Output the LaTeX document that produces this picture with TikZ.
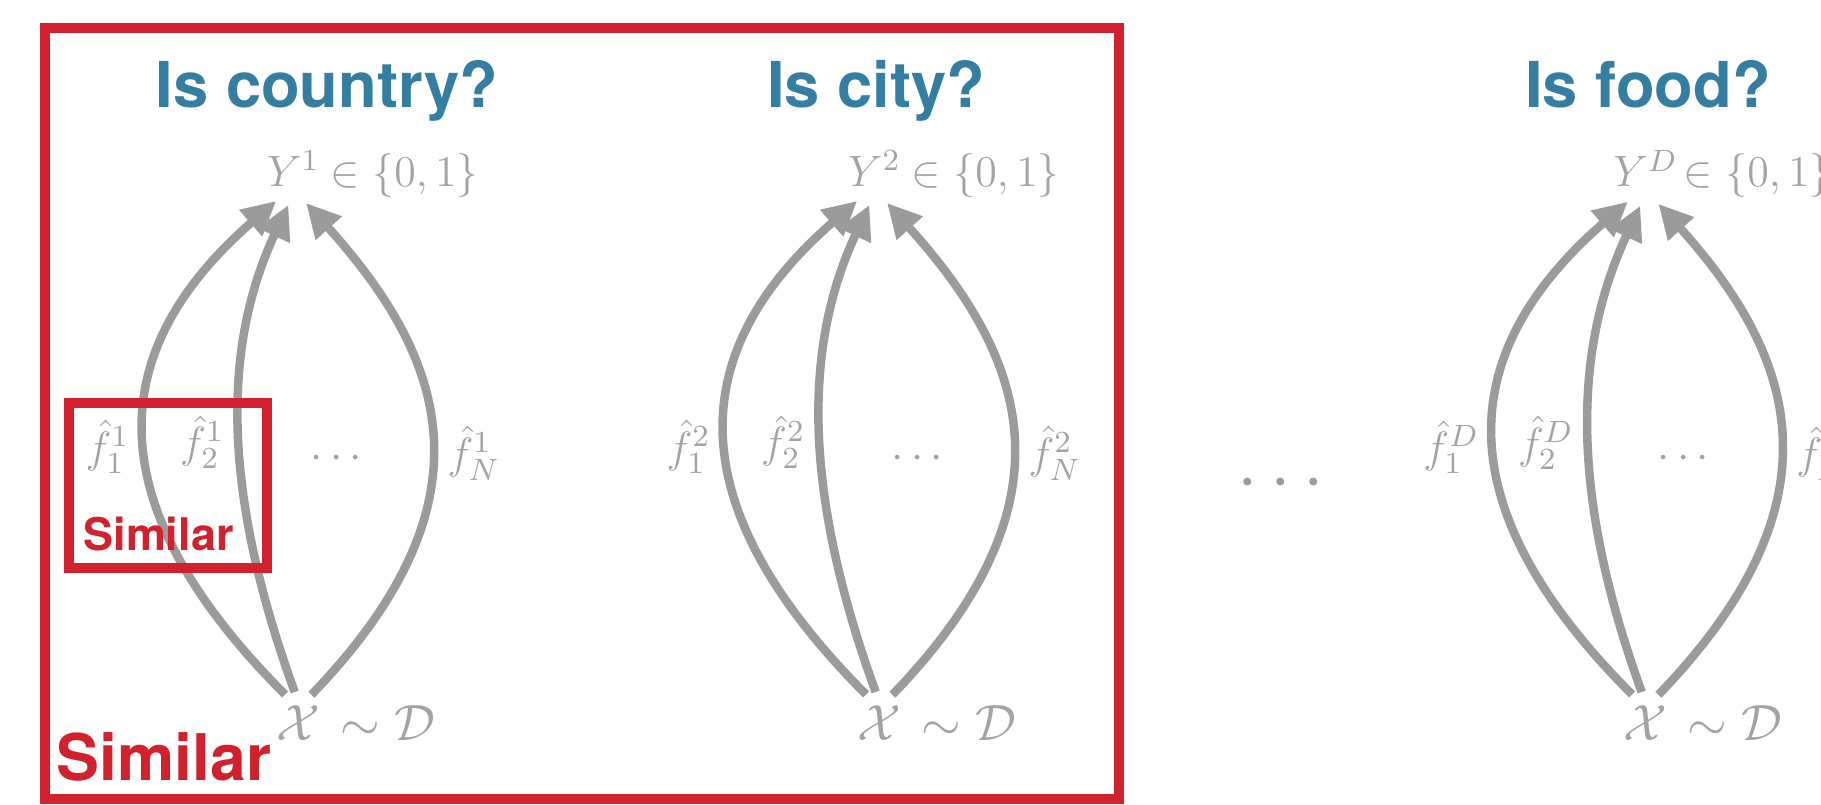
\RequirePackage{fix-cm}
\documentclass[tikz,border=0pt]{standalone}
\usepackage{amsmath,amssymb}
\usepackage{fontspec}
\setsansfont{TeX Gyre Heros}
\usepackage{tikz}
\usetikzlibrary{arrows.meta,positioning}
\definecolor{qblue}{RGB}{52,126,161}
\definecolor{simred}{RGB}{208,33,45}
\definecolor{arrgray}{RGB}{155,155,155}
\definecolor{txtgray}{RGB}{163,163,163}

\begin{document}
\begin{tikzpicture}[x=0.1mm,y=0.1mm,
  question/.style={font=\sffamily\bfseries\fontsize{18}{21}\selectfont,text=qblue,anchor=base,inner sep=0pt},
  mlab/.style={text=txtgray,inner sep=2pt,font=\fontsize{12.5}{15}\selectfont},
  flab/.style={mlab,inner sep=3.2pt,pos=.46},
  yvar/.style={mlab,circle,inner sep=0pt,minimum size=7.2mm},
  xvar/.style={mlab,circle,inner sep=0pt,minimum size=6.2mm,font=\fontsize{14.5}{17}\selectfont},
  xlab/.style={mlab,inner sep=0pt,font=\fontsize{14.5}{17}\selectfont},
  simlab/.style={font=\sffamily\bfseries,text=simred,anchor=base,inner sep=0pt},
  frame/.style={draw=simred,line width=1mm},
  arr/.style={draw=arrgray,line width=0.85mm,-{Triangle[length=3.4mm,width=3.3mm]}},
  outer/.style={out=135,in=221,out looseness=1.45,in looseness=1.13},
  inner/.style={out=110,in=245,out looseness=1.15,in looseness=0.8},
  far/.style={out=46,in=312,out looseness=1.4,in looseness=1.08}]
\clip (0,0) rectangle (1821,804);
% task 1
\node[question] (q1) at (327,696) {Is country?};
\node[yvar] (y1) at (293.5,635.5) {$Y^1$};
\node[mlab,inner sep=0pt,base right=0pt of y1] (yr1) {$\in\{0,1\}$};
\node[xvar] (x1) at (298,80.5) {$\mathcal{X}$};
\node[xlab,base right=1mm of x1] (xr1) {$\sim\mathcal{D}$};
\draw[arr] (x1.114) to[outer] node[flab,left] {$\hat f^1_1$} (y1.242);
\draw[arr] (x1.96) to[inner] node[flab,left] {$\hat f^1_2$} (y1.262);
\draw[arr] (x1.65) to[far] node[flab,right] {$\hat f^1_N$} (y1.290);
\node[mlab] (dots1) at (340,345) {$\cdots$};
% task 2
\node[question] (q2) at (876,696) {Is city?};
\node[yvar] (y2) at (874.5,635.5) {$Y^2$};
\node[mlab,inner sep=0pt,base right=0pt of y2] (yr2) {$\in\{0,1\}$};
\node[xvar] (x2) at (879,80.5) {$\mathcal{X}$};
\node[xlab,base right=1mm of x2] (xr2) {$\sim\mathcal{D}$};
\draw[arr] (x2.114) to[outer] node[flab,left] {$\hat f^2_1$} (y2.242);
\draw[arr] (x2.96) to[inner] node[flab,left] {$\hat f^2_2$} (y2.262);
\draw[arr] (x2.65) to[far] node[flab,right] {$\hat f^2_N$} (y2.290);
\node[mlab] (dots2) at (921,345) {$\cdots$};
% more tasks
\node[text=arrgray,font=\fontsize{21}{24}\selectfont] (gap) at (1287,320) {$\cdots$};
% task D
\node[question] (q3) at (1648,696) {Is food?};
\node[yvar] (y3) at (1645.5,635.5) {$Y^D$};
\node[mlab,inner sep=0pt,base right=0pt of y3] (yr3) {$\in\{0,1\}$};
\node[xvar] (x3) at (1645,80.5) {$\mathcal{X}$};
\node[xlab,base right=1mm of x3] (xr3) {$\sim\mathcal{D}$};
\draw[arr] (x3.114) to[outer] node[flab,left] {$\hat f^D_1$} (y3.242);
\draw[arr] (x3.96) to[inner] node[flab,left] {$\hat f^D_2$} (y3.262);
\draw[arr] (x3.65) to[far] node[flab,right] {$\hat f^D_N$} (y3.290);
\node[mlab] (dots3) at (1687,345) {$\cdots$};
% similarity boxes
\draw[frame] (45,5) rectangle (1119,776);
\draw[frame] (68.5,236) rectangle (267,401);
\node[simlab,font=\sffamily\bfseries\fontsize{12.8}{15}\selectfont] (simf) at (158.5,254) {Similar};
\node[simlab,font=\sffamily\bfseries\fontsize{18.3}{21}\selectfont] (simt) at (164,24) {Similar};
\end{tikzpicture}
\end{document}
